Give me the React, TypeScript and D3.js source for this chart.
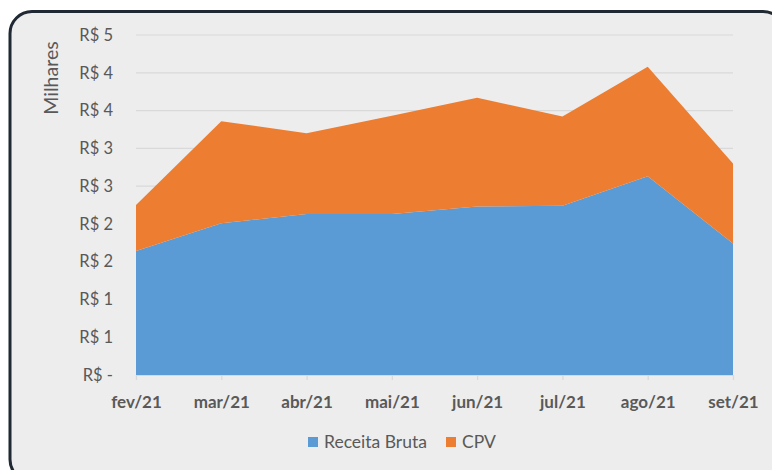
import { useEffect, useRef } from "react";
import * as d3 from "d3";

// values in thousands of R$
const months = ["fev/21", "mar/21", "abr/21", "mai/21", "jun/21", "jul/21", "ago/21", "set/21"];
const receitaBruta = [1.64, 2.01, 2.13, 2.13, 2.23, 2.24, 2.63, 1.74];
const cpv = [0.61, 1.35, 1.07, 1.3, 1.44, 1.18, 1.45, 1.06];
const yTicks = [0, 0.5, 1, 1.5, 2, 2.5, 3, 3.5, 4, 4.5];
const yTickLabels = ["R$ -", "R$ 1", "R$ 1", "R$ 2", "R$ 2", "R$ 3", "R$ 3", "R$ 4", "R$ 4", "R$ 5"];
const seriesNames = ["Receita Bruta", "CPV"];
const seriesColors = ["#5b9bd5", "#ed7d31"];

export default function App() {
  const svgRef = useRef<SVGSVGElement | null>(null);

  useEffect(() => {
    if (!svgRef.current) return;
    const width = 772;
    const height = 470;
    const margin = { top: 35, right: 39, bottom: 95, left: 136 };
    const font = "Lato, 'Noto Sans', sans-serif";

    const svg = d3.select(svgRef.current).attr("width", width).attr("height", height);
    svg.selectAll("*").remove();

    // frame
    svg.append("rect").attr("width", width).attr("height", height).attr("fill", "#ffffff");
    svg
      .append("rect")
      .attr("x", 10)
      .attr("y", 11.5)
      .attr("width", 775)
      .attr("height", 470)
      .attr("rx", 22)
      .attr("fill", "#ededed")
      .attr("stroke", "#1f2833")
      .attr("stroke-width", 3);

    const table = months.map((m, i) => ({ month: m, r: receitaBruta[i], c: cpv[i] }));
    const stacked = d3.stack<{ month: string; r: number; c: number }>().keys(["r", "c"])(table);

    const x = d3
      .scalePoint<string>()
      .domain(months)
      .range([margin.left, width - margin.right]);
    const y = d3
      .scaleLinear()
      .domain([0, 4.5])
      .range([height - margin.bottom, margin.top]);

    // gridlines
    svg
      .append("g")
      .selectAll("line")
      .data(yTicks.slice(1))
      .join("line")
      .attr("x1", margin.left)
      .attr("x2", width - margin.right)
      .attr("y1", (d) => y(d))
      .attr("y2", (d) => y(d))
      .attr("stroke", "#d9d9d9")
      .attr("stroke-width", 1.2);

    const area = d3
      .area<d3.SeriesPoint<{ month: string; r: number; c: number }>>()
      .x((d) => x(d.data.month) as number)
      .y0((d) => y(d[0]))
      .y1((d) => y(d[1]));

    svg
      .append("g")
      .selectAll("path")
      .data(stacked)
      .join("path")
      .attr("d", (s) => area(s))
      .attr("fill", (_, i) => seriesColors[i]);

    // x axis
    const xAxis = d3.axisBottom(x).tickSize(5).tickPadding(16);
    const gx = svg
      .append("g")
      .attr("transform", `translate(0,${y(0)})`)
      .call(xAxis);
    gx.select(".domain").attr("stroke", "#d9d9d9").attr("stroke-width", 1.2);
    gx.selectAll(".tick line").attr("stroke", "#d9d9d9").attr("stroke-width", 1.2);
    gx.selectAll(".tick text")
      .attr("fill", "#595959")
      .attr("font-family", font)
      .attr("font-weight", "bold")
      .attr("font-size", 17);

    // y axis labels
    const yAxis = d3
      .axisLeft(y)
      .tickValues(yTicks)
      .tickSize(0)
      .tickPadding(23)
      .tickFormat((_, i) => yTickLabels[i]);
    const gy = svg.append("g").attr("transform", `translate(${margin.left},0)`).call(yAxis);
    gy.select(".domain").remove();
    gy.selectAll(".tick text")
      .attr("fill", "#595959")
      .attr("font-family", font)
      .attr("font-size", 16.5);

    svg
      .append("text")
      .attr("transform", `translate(58,78) rotate(-90)`)
      .attr("text-anchor", "middle")
      .attr("fill", "#595959")
      .attr("font-family", font)
      .attr("font-size", 19.5)
      .text("Milhares");

    // legend
    const legendX = [308, 446];
    const legend = svg
      .append("g")
      .selectAll("g")
      .data(seriesNames)
      .join("g")
      .attr("transform", (_, i) => `translate(${legendX[i]},437)`);
    legend
      .append("rect")
      .attr("width", 10)
      .attr("height", 10)
      .attr("fill", (_, i) => seriesColors[i]);
    legend
      .append("text")
      .attr("x", 16)
      .attr("y", 5)
      .attr("dy", "0.35em")
      .attr("fill", "#595959")
      .attr("font-family", font)
      .attr("font-size", 17.5)
      .text((d) => d);
  }, []);

  return (
    <div style={{ position: "absolute", left: 0, top: 0 }}>
      <svg ref={svgRef} style={{ display: "block" }}></svg>
    </div>
  );
}
